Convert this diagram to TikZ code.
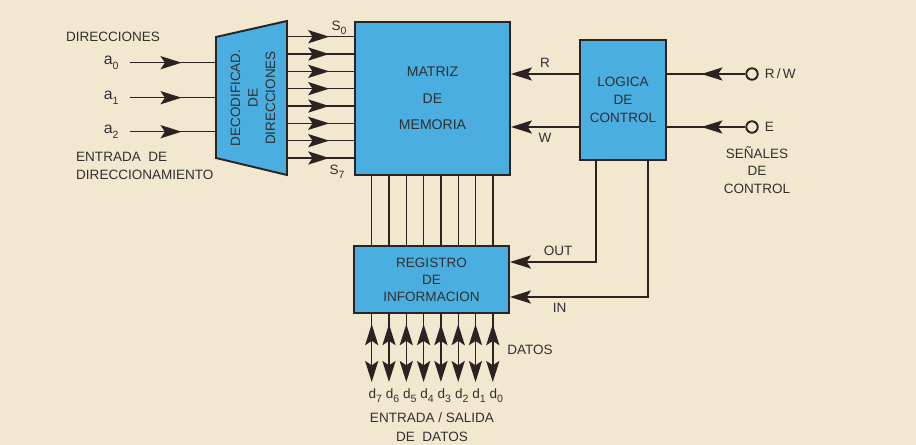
\documentclass[tikz,border=0pt]{standalone}
\usepackage{fontspec}
\setmainfont{Liberation Sans}
\usetikzlibrary{arrows.meta,decorations.markings}
\definecolor{paperBg}{HTML}{F2E8D0}
\definecolor{blockFill}{HTML}{4BAEE0}
\definecolor{inkLine}{HTML}{2A2321}
\definecolor{inkText}{HTML}{303030}
\tikzset{
  block/.style={draw=inkLine, fill=blockFill, line width=1.1pt, align=center, text=inkText},
  wire/.style={draw=inkLine, line width=0.8pt},
  headto/.style={-{Stealth[length=12pt,width=7.5pt,inset=2.5pt]}},
  lbl/.style={text=inkText, font=\fontsize{7.7}{10}\selectfont},
  sigport/.style={circle, draw=inkLine, fill=paperBg, line width=1.1pt, minimum size=0.23cm, inner sep=0pt},
  midarrow/.style={postaction={decorate,decoration={markings,mark=at position #1 with
    {\arrow{Stealth[length=12pt,width=7.5pt,inset=2.5pt]}}}}},
  backarrow/.style={postaction={decorate,decoration={markings,mark=at position #1 with
    {\arrowreversed{Stealth[length=12pt,width=7.5pt,inset=2.5pt]}}}}}
}
\newcommand{\lowsub}[1]{\raisebox{-0.6ex}{\fontsize{6}{6}\selectfont #1}}

\begin{document}
\begin{tikzpicture}[x=0.02cm, y=-0.02cm]
\fill[paperBg] (0,0) rectangle (916,445);
\useasboundingbox (0,0) rectangle (916,445);

% Blocks
\node[block, minimum width=3.1cm, minimum height=3.06cm, font=\fontsize{8}{15}\selectfont]
  (mem) at (432.5,98.5) {MATRIZ\\DE\\MEMORIA};
\node[block, minimum width=1.72cm, minimum height=2.4cm, font=\fontsize{7.7}{10.3}\selectfont]
  (ctl) at (623,100) {LOGICA\\DE\\CONTROL};
\node[block, minimum width=3.1cm, minimum height=1.34cm, font=\fontsize{7.7}{9.7}\selectfont]
  (reg) at (431.5,279.5) {REGISTRO\\DE\\INFORMACION};
\draw[block] (216,37) -- (287,21) -- (287,175) -- (216,158) -- cycle;
\node[lbl, rotate=90, align=center] (dec) at (253,98) {DECODIFICAD.\\DE\\DIRECCIONES};
\coordinate (decin) at (216,98);
\coordinate (decout) at (287,98);

% Address inputs
\node[lbl] (dirtitle) at (113,37) {DIRECCIONES};
\foreach \i/\y in {0/62.7,1/97.7,2/131.7} {
  \coordinate (a\i) at (130,\y);
  \node[lbl, left, xshift=-3pt, font=\fontsize{9}{10}\selectfont] (alab\i) at (a\i) {a\lowsub{\i}};
  \draw[wire, midarrow=0.6] (a\i) -- (a\i -| decin);
}
\node[lbl, align=left, anchor=west, font=\fontsize{7.7}{10.2}\selectfont]
  (dirnote) at (70,166) {ENTRADA\ \ DE\\DIRECCIONAMIENTO};

% Decoder outputs S0..S7
\foreach \i in {0,...,7} {
  \coordinate (s\i) at (287,36.7+17.33*\i);
  \draw[wire, midarrow=0.63] (s\i) -- (s\i -| mem.west);
}
\node[lbl] (s0lab) at (339,28) {S\lowsub{0}};
\node[lbl] (s7lab) at (337,172) {S\lowsub{7}};

% Memory <-> register bus and data pins
\foreach \i/\n in {0/7,1/6,2/5,3/4,4/3,5/2,6/1,7/0} {
  \coordinate (bus\i) at (371.7+17.3*\i,210);
  \draw[wire] (mem.south -| bus\i) -- (reg.north -| bus\i);
  \coordinate (d\i) at (371.7+17.3*\i,382);
  \draw[wire, headto, backarrow=0.15] (reg.south -| d\i) -- (d\i);
  \node[lbl, anchor=north, xshift=2pt] (dlab\i) at (d\i) {d\lowsub{\n}};
}
\node[lbl] (datos) at (530,350) {DATOS};
\node[lbl, align=center, font=\fontsize{7.7}{10.8}\selectfont]
  (ionote) at (432,427.5) {ENTRADA / SALIDA\\DE\ \ DATOS};

% Control signals
\node[sigport] (rw) at (752,74) {};
\node[sigport] (en) at (752,127) {};
\node[lbl, right] (rwlab) at (rw.east) {R\,/\,W};
\node[lbl, right] (enlab) at (en.east) {E};
\draw[wire, midarrow=0.56] (rw) -- (rw -| ctl.east);
\draw[wire, midarrow=0.56] (en) -- (en -| ctl.east);
\node[lbl, align=center] (signote) at (757,170) {SEÑALES\\DE\\CONTROL};

\draw[wire, headto] (rw -| ctl.west) -- (rw -| mem.east)
  node[lbl, midway, above] {R};
\draw[wire, headto] (en -| ctl.west) -- (en -| mem.east)
  node[lbl, midway, below] {W};

\coordinate (outtap) at (596,262);
\coordinate (intap) at (648,297);
\draw[wire, headto] (ctl.south -| outtap) |- (reg.east |- outtap)
  node[lbl, pos=0.72, above] {OUT};
\draw[wire, headto] (ctl.south -| intap) |- (reg.east |- intap)
  node[lbl, pos=0.82, below] {IN};

\end{tikzpicture}
\end{document}
